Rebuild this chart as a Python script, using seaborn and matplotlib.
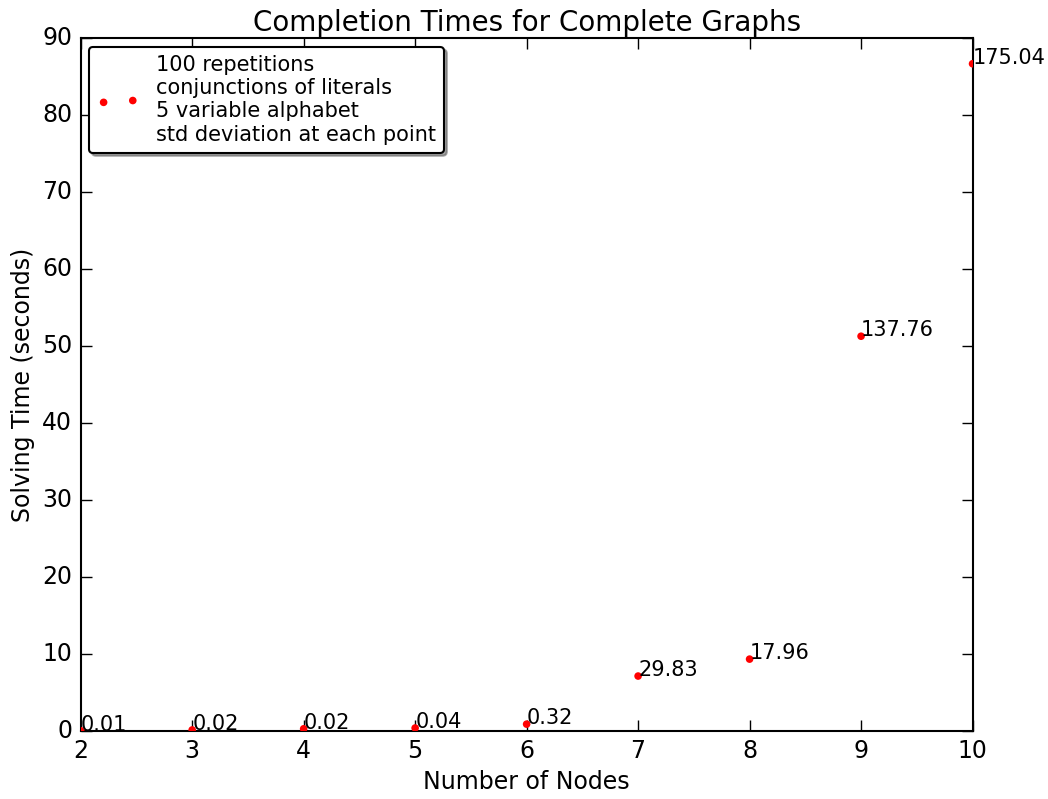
import seaborn as sns
import matplotlib.pyplot as plt
import pandas as pd

# --- Data ---
nodes = [2, 3, 4, 5, 6, 7, 8, 9, 10]
solve_time = [0.05, 0.15, 0.3, 0.4, 0.9, 7.15, 9.35, 51.3, 86.7]
std_dev = ["0.01", "0.02", "0.02", "0.04", "0.32", "29.83", "17.96", "137.76", "175.04"]

legend_label = ("100 repetitions\nconjunctions of literals\n"
                "5 variable alphabet\nstd deviation at each point")

df = pd.DataFrame({"nodes": nodes, "time": solve_time})

plt.style.use("classic")
plt.rcParams["font.family"] = ["DejaVu Sans"]

fig = plt.figure(figsize=(10.48, 7.99), dpi=100, facecolor="white")
ax = fig.add_axes([0.077, 0.085, 0.851, 0.867])

sns.scatterplot(data=df, x="nodes", y="time", color="red", s=30,
                edgecolor="none", label=legend_label, ax=ax, zorder=3)

for x, y, s in zip(nodes, solve_time, std_dev):
    ax.text(x, y, s, fontsize=15)

ax.set_xlim(2, 10)
ax.set_ylim(0, 90)
ax.tick_params(labelsize=17, direction="in", length=8, width=1, pad=6)
ax.set_title("Completion Times for Complete Graphs", fontsize=20)
ax.set_xlabel("Number of Nodes", fontsize=17)
ax.set_ylabel("Solving Time (seconds)", fontsize=17)
for sp in ax.spines.values():
    sp.set_linewidth(1.5)

leg = ax.legend(loc="upper left", scatterpoints=2, fontsize=15, shadow=True,
                fancybox=True, frameon=True, borderaxespad=0.4)
leg.get_frame().set_linewidth(1.5)

fig.savefig("out.png", dpi=100, facecolor="white")
